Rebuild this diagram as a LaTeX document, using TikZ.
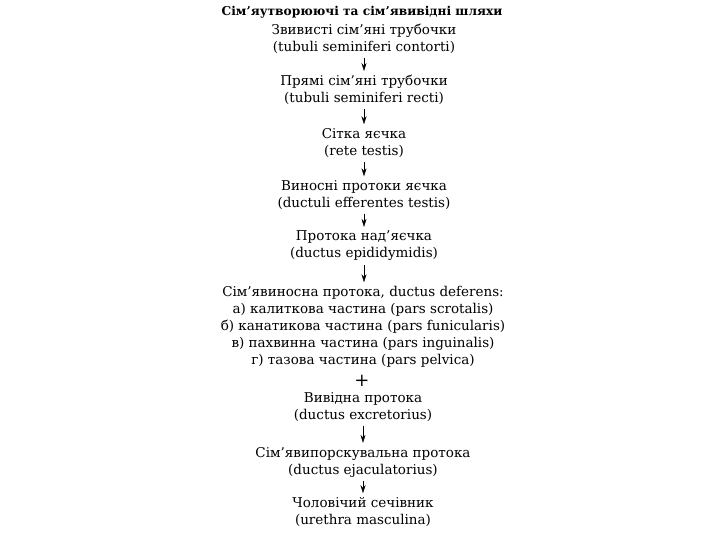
\documentclass[tikz,border=0pt]{standalone}
\usepackage{fontspec}
\setmainfont{DejaVu Serif}
\usetikzlibrary{arrows.meta,positioning}

\begin{document}
\begin{tikzpicture}[x=1pt,y=-1pt,
  part/.style={align=center,inner sep=2pt,font=\fontsize{13.5}{17}\selectfont},
  arr/.style={-{Stealth[length=8pt,width=5pt]},thin,shorten >=2pt,shorten <=2pt}
]
\useasboundingbox (0,0) rectangle (720,540);
\node[part,font=\bfseries\fontsize{12.2}{17}\selectfont] (title) at (362,12)
  {Сім’яутворюючі та сім’явивідні шляхи};
\node[part] (contorti) at (364,39)
  {Звивисті сім’яні трубочки\\(tubuli seminiferi contorti)};
\node[part] (recti) at (364,90)
  {Прямі сім’яні трубочки\\(tubuli seminiferi recti)};
\node[part] (rete) at (364,143)
  {Сітка яєчка\\(rete testis)};
\node[part] (efferent) at (364,195)
  {Виносні протоки яєчка\\(ductuli efferentes testis)};
\node[part] (epid) at (364,246)
  {Протока над’яєчка\\(ductus epididymidis)};
\node[part] (deferens) at (363,327)
  {Сім’явиносна протока, ductus deferens:\\
   а) калиткова частина (pars scrotalis)\\
   б) канатикова частина (pars funicularis)\\
   в) пахвинна частина (pars inguinalis)\\
   г) тазова частина (pars pelvica)};
\node[part,font=\fontsize{18}{17}\selectfont] (plus) at (362,381) {+};
\node[part] (excret) at (363,407)
  {Вивідна протока\\(ductus excretorius)};
\node[part] (ejac) at (363,462)
  {Сім’явипорскувальна протока\\(ductus ejaculatorius)};
\node[part] (urethra) at (363,512)
  {Чоловічий сечівник\\(urethra masculina)};
% arrows
\draw[arr] (contorti) -- (recti);
\draw[arr] (recti) -- (rete);
\draw[arr] (rete) -- (efferent);
\draw[arr] (efferent) -- (epid);
\draw[arr] (epid.south) -- (epid.south |- deferens.north);
\draw[arr] (excret) -- (ejac);
\draw[arr] (ejac) -- (urethra);
\end{tikzpicture}
\end{document}
